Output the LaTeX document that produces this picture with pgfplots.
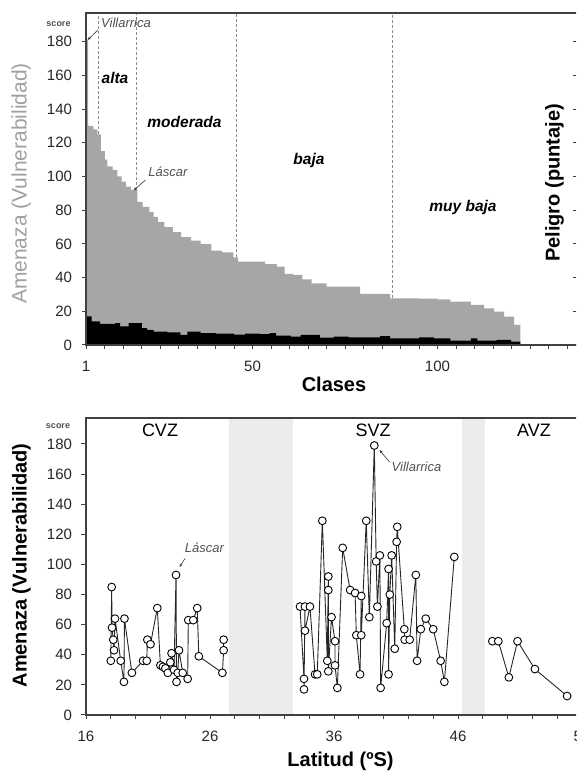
\documentclass[border=0pt]{standalone}
\usepackage{fontspec}
\setmainfont{Liberation Sans}
\usepackage{pgfplots}
\pgfplotsset{compat=1.18}
\usetikzlibrary{arrows.meta}
\definecolor{areagray}{RGB}{166,166,166}
\definecolor{bandgray}{RGB}{236,236,236}
\definecolor{labgray}{RGB}{160,160,160}
\definecolor{axgray}{RGB}{64,64,64}
\definecolor{dashgray}{RGB}{140,140,140}
\definecolor{txtgray}{RGB}{80,80,80}
\newcommand{\fs}[1]{\fontsize{#1}{#1}\selectfont}
\begin{document}
\begin{tikzpicture}
\path[use as bounding box] (0,0) rectangle (576pt,771pt);
\clip (0,0) rectangle (576pt,771pt);
\pgfplotsset{
  common/.style={
    axis on top,
    axis line style={axgray, line width=1.3pt},
    every tick/.style={axgray, line width=1pt},
    tick align=outside, major tick length=4.5pt, minor tick length=4.5pt,
    tick label style={font=\fs{15}, text=black!85},
    /pgf/number format/assume math mode=true,
    xtick pos=bottom, ytick pos=left,
    ymin=0, ytick={0,20,...,180},
    yticklabel style={xshift=-6pt},
  },
  volc/.style={black!85, line width=0.9pt, mark=*,
    mark size=3.9pt, mark options={fill=white, draw=black, line width=0.9pt}},
}
% ---------------- top panel ----------------
\begin{axis}[common, at={(86pt,426pt)}, anchor=south west,
  x=3.7pt, y=1.685pt, xmin=5, xmax=138, ymax=197,
  xtick={5,50,100}, xticklabels={1,50,100}, minor xtick={10,15,...,135},
  xticklabel style={yshift=-8pt}]
\addplot[fill=areagray, draw=none, const plot] coordinates {
(5,181) (5.6,130) (7.0,128) (8.1,125) (9.0,115) (10.1,110) (10.8,106) (12.2,104)
(13.5,100) (14.6,97) (15.8,94) (17.1,92) (18.9,85) (20.3,82) (22.1,79) (23.3,76)
(24.4,73) (26.2,70) (28.5,67) (30.7,64) (33.4,62) (36.0,60) (38.9,56) (41.8,55)
(44.8,52) (46.1,49.5) (53.4,48) (56.6,46.5) (58.7,42.2) (61.0,41.6) (63.5,39)
(66.0,36.6) (70.0,34.6) (79.1,30.3) (87.2,27.7) (95,27.5) (100,27) (103.5,25.7)
(109.0,23.8) (112.6,21.8) (115.3,19.8) (118.0,16.8) (120.7,11.9) (122.4,11.9)
} \closedcycle;
\addplot[fill=black, draw=none, const plot] coordinates {
(5,17) (6.5,14) (8.8,12.5) (12.9,13) (14.2,11) (16.5,13) (20.1,10) (21.5,9)
(23.3,8) (27,7.5) (30.5,6) (32.4,8) (36,7) (40,6.8) (45,6.2) (48,6.8) (52,6.5)
(54.6,7) (56.4,5.5) (60.4,5) (63,6) (68.2,4.4) (72,5) (76,4.5) (84.5,5.3)
(87.2,4) (95,4.5) (99,4) (103.5,2.6) (109,4) (110.8,2.6) (116,3) (119.9,2) (122.4,2)
} \closedcycle;
\addplot[dashgray, densely dashed, line width=0.6pt] coordinates {(8.2,125) (8.2,197)};
\addplot[dashgray, densely dashed, line width=0.6pt] coordinates {(18.6,92) (18.6,197)};
\addplot[dashgray, densely dashed, line width=0.6pt] coordinates {(45.5,52) (45.5,197)};
\addplot[dashgray, densely dashed, line width=0.6pt] coordinates {(87.9,27.7) (87.9,197)};
\end{axis}
\begin{axis}[at={(86pt,426pt)}, anchor=south west,
  x=3.7pt, y=1.685pt, xmin=5, xmax=138, ymin=0, ymax=197,
  axis y line*=right, axis x line=none, ytick={0,20,...,180}, yticklabels={},
  tick align=inside, major tick length=5pt,
  every tick/.style={axgray, line width=1pt},
  axis line style={axgray, line width=1.3pt}]
\addplot[draw=none] coordinates {(5,0)};
\end{axis}
% ---------------- bottom panel ----------------
\begin{axis}[common, at={(86pt,56pt)}, anchor=south west,
  x=12.4pt, y=1.5056pt, xmin=16, xmax=56.6, ymax=197.3,
  xtick={16,26,36,46,56}, minor xtick={18,20,...,54},
  xticklabel style={yshift=-7.5pt}]
\addplot[fill=bandgray, draw=none] coordinates {(27.5,197.3) (32.7,197.3)} \closedcycle;
\addplot[fill=bandgray, draw=none] coordinates {(46.3,197.3) (48.2,197.3)} \closedcycle;
\addplot[volc] coordinates {
(18.0,36) (18.07,85) (18.1,58) (18.2,50) (18.26,43) (18.34,64) (18.8,36)
(19.06,22) (19.1,64) (19.7,28) (20.6,36) (20.9,36) (20.95,50) (21.2,47)
(21.75,71) (22.0,33) (22.2,32) (22.4,31) (22.6,28) (22.8,35) (22.9,41)
(23.1,30) (23.26,93) (23.3,22) (23.4,28) (23.5,43) (23.8,28) (24.2,24)
(24.25,63) (24.65,63) (24.97,71) (25.1,39) (27.0,28) (27.1,43) (27.1,50)
};
\addplot[volc] coordinates {
(33.26,72) (33.58,24) (33.58,17) (33.66,72) (33.66,56) (34.06,72) (34.47,27)
(34.65,27) (35.06,129) (35.46,36) (35.54,92) (35.54,83) (35.54,29) (35.8,65)
(36.08,49) (36.08,33) (36.27,18) (36.7,111) (37.3,83) (37.7,81) (37.8,53)
(38.1,27) (38.2,79) (38.2,53) (38.6,129) (38.85,65) (39.25,179) (39.4,102)
(39.5,72) (39.7,106) (39.76,18) (40.25,61) (40.4,97) (40.4,27) (40.5,80)
(40.65,106) (40.9,44) (41.05,115) (41.1,125) (41.67,57) (41.7,50) (42.1,50)
(42.6,93) (42.7,36) (43.0,57) (43.4,64) (44.0,57) (44.6,36) (44.9,22) (45.7,105)
};
\addplot[volc] coordinates {
(48.77,49) (49.25,49) (50.1,25) (50.8,49) (52.2,30.5) (54.8,12.6)
};
\end{axis}
% ---------------- texts ----------------
\node[anchor=base, font=\fs{9}\bfseries, text=txtgray] at (58.5pt,744pt) {score};
\node[anchor=base, font=\fs{9}\bfseries, text=txtgray] at (58pt,342pt) {score};
\node[anchor=base, font=\fs{13}\itshape, text=txtgray] at (126pt,743pt) {Villarrica};
\draw[-{Stealth[length=3.5pt]}, black!80, line width=0.6pt] (98pt,741pt) -- (87.5pt,731pt);
\node[anchor=base, font=\fs{15.5}\bfseries\itshape] at (115pt,687pt) {alta};
\node[anchor=base, font=\fs{15.5}\bfseries\itshape] at (184.5pt,643pt) {moderada};
\node[anchor=base, font=\fs{13}\itshape, text=txtgray] at (168pt,594pt) {Láscar};
\draw[-{Stealth[length=3.5pt]}, black!80, line width=0.6pt] (145.5pt,591pt) -- (133.5pt,580.5pt);
\node[anchor=base, font=\fs{15.5}\bfseries\itshape] at (309pt,606pt) {baja};
\node[anchor=base, font=\fs{15.5}\bfseries\itshape] at (463pt,559pt) {muy baja};
\node[anchor=base, rotate=90, font=\fs{20}\bfseries] at (559.5pt,588pt) {Peligro (puntaje)};
\node[anchor=base, font=\fs{20}\bfseries] at (334pt,379pt) {Clases};
\node[anchor=base, rotate=90, font=\fs{21}, text=labgray] at (26.7pt,587.5pt) {Amenaza (Vulnerabilidad)};
\node[anchor=base, font=\fs{18}] at (160pt,334pt) {CVZ};
\node[anchor=base, font=\fs{18}] at (373pt,334pt) {SVZ};
\node[anchor=base, font=\fs{18}] at (534pt,334pt) {AVZ};
\node[anchor=base, font=\fs{13}\itshape, text=txtgray] at (416.5pt,299pt) {Villarrica};
\draw[-{Stealth[length=3.5pt]}, black!80, line width=0.6pt] (389.5pt,309pt) -- (379.5pt,321pt);
\node[anchor=base, font=\fs{13}\itshape, text=txtgray] at (204.5pt,218pt) {Láscar};
\draw[-{Stealth[length=3.5pt]}, black!80, line width=0.6pt] (185pt,212.5pt) -- (179.5pt,204pt);
\node[anchor=base, font=\fs{20}\bfseries] at (340.5pt,4.5pt) {Latitud (ºS)};
\node[anchor=base, rotate=90, font=\fs{20}\bfseries] at (26.7pt,205.5pt) {Amenaza (Vulnerabilidad)};
\end{tikzpicture}
\end{document}
